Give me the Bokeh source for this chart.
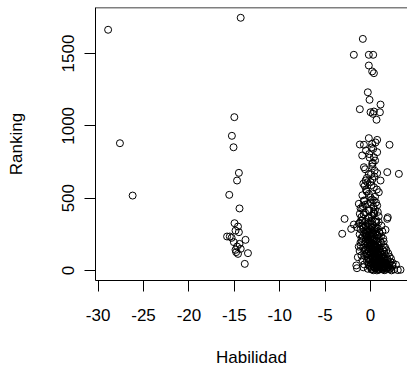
from bokeh.plotting import figure
from bokeh.models import FixedTicker, Span, Range1d
from bokeh.embed import file_html
from bokeh.resources import INLINE

# Outliers and clusters: (Habilidad, Ranking)
hab_far = [-28.9, -27.6, -26.2]
rank_far = [1664, 880, 518]

hab_mid = [-14.3, -15.0, -15.27, -15.09, -14.5, -14.7, -15.56, -14.43,
           -14.98, -14.6, -15.5, -14.87, -14.5, -15.3, -13.77, -15.05,
           -14.7, -14.87, -14.8, -14.3, -13.5, -14.6, -13.85, -15.8, -14.43]
rank_mid = [1747, 1060, 931, 852, 675, 622, 523, 429,
            327, 304, 235, 276, 265, 226, 212, 196,
            166, 143, 127, 150, 120, 115, 46, 235, 184]

hab_top = [-0.85, -1.84, -0.19, 0.29, -0.19, 0.18, 0.37, -0.3, -0.11, -1.18,
           1.1, 0.0, 0.37, 0.26, 1.03, 0.66, -0.19, 0.73, 2.09, -1.18,
           -0.73, 0.18, 0.29, 0.73, -0.92, 0.37, 0.18, -0.73, 1.84, 3.12,
           -0.19, 0.73, 1.1, 0.0, -0.55, 0.37, 0.91, -0.19, -0.73, 0.37,
           -1.29, 0.73, -0.92, -0.19, -1.18, 0.37, -2.86, -1.84, -2.13, -3.12,
           1.84, 1.65, 1.47, -1.57, 3.3, 2.39, -1.1, -1.4, 1.9, -1.29,
           -0.5, 0.1, -0.9, 0.5, -0.3, 0.6, -0.6, 0.1, 0.5, -1.0,
           -0.2, 0.9, -0.4, 0.4, -0.6, 0.2, -0.1, 0.5, -0.5, 0.1,
           -0.8, -0.4, 0.2, 0.7, -1.1, -0.6, 0.0, 0.4, -0.9, -0.3,
           0.3, 0.8, -0.7, -0.1, 0.6, -0.5, 0.2, -1.2, -0.8, 0.0,
           -0.35, 0.05, 0.45, -0.65, 0.25, -0.15, 0.55, -0.45, 0.15, -0.85,
           0.35, -0.25, 0.65, -0.55, 0.05, -1.05, 0.45, -0.35, 0.15, -0.75]
rank_top = [1601, 1491, 1491, 1491, 1417, 1376, 1364, 1232, 1180, 1115,
            1147, 1094, 1099, 1083, 1094, 1042, 915, 903, 869, 871,
            869, 876, 841, 818, 795, 783, 737, 714, 680, 668,
            668, 673, 622, 611, 622, 576, 541, 530, 484, 484,
            461, 449, 427, 415, 392, 392, 357, 318, 288, 254,
            357, 281, 161, 35, 5, 35, 173, 92, 368, 323,
            560, 590, 520, 510, 460, 470, 400, 380, 420, 370,
            360, 375, 640, 650, 700, 720, 780, 760, 830, 850,
            600, 545, 630, 560, 430, 455, 505, 395, 345, 325,
            440, 405, 480, 415, 350, 300, 292, 330, 295, 470,
            610, 665, 690, 585, 745, 805, 885, 550, 490, 445,
            405, 365, 335, 310, 298, 345, 285, 272, 262, 388]

hab_low = [-0.6, 0.1, 0.5, -0.2, 0.9,
           -0.9, -0.3, 0.2, 0.6, 1.2, -1.5,
           -1.1, -0.5, 0.0, 0.4, 0.8, 1.3, -0.8,
           -1.2, -0.7, -0.2, 0.3, 0.7, 1.0, -0.4, 0.1,
           -1.0, -0.5, 0.0, 0.4, 0.9, 1.4, -0.2, 0.6,
           -1.1, -0.6, -0.1, 0.3, 0.8, 1.2, 0.0, 0.5,
           -1.3, -0.8, -0.3, 0.2, 0.6, 1.0, 1.6, -0.5, 0.4,
           -1.2, -0.7, -0.2, 0.3, 0.7, 1.1, 1.5, -0.4, 0.1, 0.9,
           -1.0, -0.6, -0.1, 0.4, 0.8, 1.2, 1.7, 2.1, -0.3, 0.2, 0.6, 1.0,
           -0.9, -0.4, 0.0, 0.5, 0.9, 1.3, 1.8, 2.2, -0.2, 0.3, 0.7, 1.1, 1.5,
           -0.7, -0.2, 0.2, 0.6, 1.0, 1.4, 1.9, 2.4, 0.0, 0.4, 0.8, 1.2, 1.6, 2.0,
           -0.3, 0.1, 0.5, 0.9, 1.3, 1.7, 2.1, 2.6, 3.0, 0.3, 0.7, 1.5, 2.3, -1.5, -0.8,
           -0.85, -0.45, -0.05, 0.35, 0.75, 1.15, 0.15, 0.55, -0.25, 0.95,
           -0.95, -0.55, -0.15, 0.25, 0.65, 1.05, 1.45, 0.45, -0.35, 0.85,
           -0.65, -0.25, 0.15, 0.55, 0.95, 1.35, 1.75, 0.05, 0.45, 1.25,
           -0.45, -0.05, 0.35, 0.75, 1.15, 1.55, 1.95, 0.25, 0.65, 1.05,
           -0.15, 0.25, 0.65, 1.05, 1.45, 1.85, 2.25, 0.45, 0.85, 1.65,
           0.05, 0.45, 0.85, 1.25, 1.65, 2.05, 2.45, 2.8, 0.65, 1.45,
           0.15, 0.55, 0.95, 1.35, 1.75, 2.15, 0.35, 0.75, 1.15, 1.95,
           0.1, 0.3, 0.5, 0.7, 0.9, 1.1, 1.3, 1.5, 1.7, 1.9,
           0.2, 0.4, 0.6, 0.8, 1.0, 1.2, 1.4, 1.6, 1.8, 2.0,
           -0.1, 0.1, 0.3, 0.5, 0.7, 0.9, 1.1, 1.3, 0.0, 0.6,
           -0.3, -0.1, 0.1, 0.3, 0.5, 0.7, 0.9, -0.5, 0.2, 0.8]
rank_low = [340, 345, 338, 330, 335,
            312, 305, 315, 300, 310, 300,
            285, 278, 282, 275, 290, 270, 265,
            250, 255, 248, 252, 245, 258, 240, 238,
            225, 218, 222, 215, 228, 220, 210, 205,
            195, 188, 192, 185, 198, 190, 178, 172,
            165, 158, 162, 155, 168, 150, 160, 148, 145,
            135, 128, 132, 125, 138, 122, 130, 118, 115, 112,
            105, 98, 102, 95, 108, 92, 100, 95, 88, 85, 80, 82,
            72, 68, 75, 65, 70, 62, 68, 60, 58, 55, 52, 50, 55,
            42, 38, 45, 35, 40, 32, 38, 35, 28, 25, 22, 20, 24, 18,
            12, 8, 15, 5, 10, 6, 12, 8, 3, 2, 1, 2, 1, 16, 22,
            232, 236, 230, 234, 240, 235, 262, 268, 270, 265,
            200, 204, 198, 202, 207, 203, 200, 180, 182, 176,
            142, 146, 140, 144, 149, 143, 140, 170, 175, 110,
            112, 118, 114, 116, 121, 113, 118, 90, 87, 125,
            78, 82, 76, 80, 85, 79, 82, 95, 92, 45,
            48, 52, 46, 50, 55, 49, 52, 40, 30, 28,
            10, 14, 8, 12, 16, 11, 32, 30, 35, 25,
            20, 26, 18, 24, 15, 22, 19, 27, 14, 21,
            62, 58, 66, 60, 57, 64, 59, 48, 42, 38,
            160, 152, 138, 130, 126, 108, 100, 86, 185, 170,
            212, 196, 188, 180, 168, 155, 135, 245, 250, 240]

habilidad = hab_far + hab_mid + hab_top + hab_low
ranking = rank_far + rank_mid + rank_top + rank_low

x_ticks = [-30, -25, -20, -15, -10, -5, 0]
y_ticks = [0, 500, 1000, 1500]

FONT = "Liberation Sans"
FS = "17px"

p = figure(width=407, height=370, output_backend="svg", toolbar_location=None,
           x_range=Range1d(-30.29, 4.07), y_range=Range1d(-69, 1818),
           min_border_left=95, min_border_right=0, min_border_top=7,
           min_border_bottom=90, outline_line_color=None,
           background_fill_color="white", border_fill_color="white")

p.scatter(habilidad, ranking, marker="circle", size=7, fill_color=None,
          line_color="black", line_width=1)

p.xgrid.visible = False
p.ygrid.visible = False

for ax in (p.xaxis[0], p.yaxis[0]):
    ax.axis_line_color = "black"
    ax.axis_line_width = 1
    ax.major_tick_out = 11
    ax.major_tick_in = 0
    ax.major_tick_line_color = "black"
    ax.minor_tick_line_color = None
    ax.major_label_text_font = FONT
    ax.major_label_text_font_size = FS
    ax.major_label_text_color = "black"
    ax.axis_label_text_font = FONT
    ax.axis_label_text_font_size = FS
    ax.axis_label_text_font_style = "normal"
    ax.axis_label_text_color = "black"

p.xaxis.ticker = FixedTicker(ticks=x_ticks)
p.yaxis.ticker = FixedTicker(ticks=y_ticks)
p.xaxis.major_label_overrides = {t: str(t) for t in x_ticks}
p.yaxis.major_label_overrides = {t: str(t) for t in y_ticks}
p.xaxis.axis_label = "Habilidad"
p.yaxis.axis_label = "Ranking"
p.yaxis.major_label_orientation = "vertical"
p.xaxis.major_label_standoff = 17
p.xaxis.axis_label_standoff = 24
p.yaxis.major_label_standoff = 10
p.yaxis.axis_label_standoff = 34

p.add_layout(Span(location=1818, dimension="width", line_color="black", line_width=1.5))

open("out.html", "w").write(file_html(p, INLINE))
